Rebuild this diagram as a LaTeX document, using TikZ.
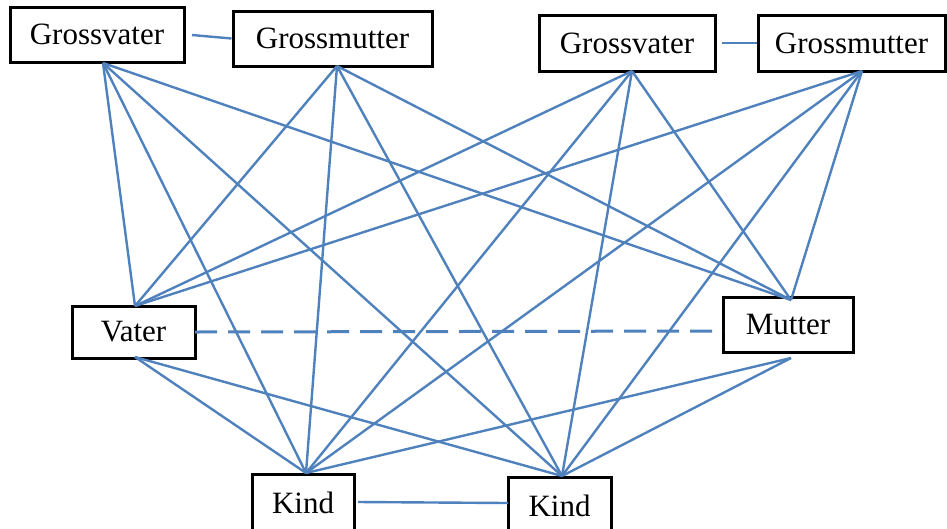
\documentclass[tikz,border=0pt]{standalone}
\usepackage{fontspec}
\setmainfont{Liberation Serif}
\begin{document}
\begin{tikzpicture}[x=1pt,y=-1pt,
  box/.style={draw=black,line width=3pt,fill=white,inner sep=0pt,font=\fontsize{31}{32}\selectfont},
  bl/.style={color=lineblue,line width=2.4pt},
  dashlink/.style={color=lineblue,line width=3pt,dash pattern=on 22pt off 11pt}]
\definecolor{lineblue}{HTML}{4F81BD}
\useasboundingbox (0,0) rectangle (947,528);
\clip (0,0) rectangle (947,528);
% boxes
\node[box,minimum width=174pt,minimum height=55pt] (gv1) at (97,34.5) {Grossvater};
\node[box,minimum width=199pt,minimum height=55pt] (gm1) at (332.5,38.5) {Grossmutter};
\node[box,minimum width=176pt,minimum height=56pt] (gv2) at (627,43) {Grossvater};
\node[box,minimum width=187pt,minimum height=56pt] (gm2) at (851.5,43) {Grossmutter};
\node[box,minimum width=123pt,minimum height=52pt] (vat) at (133.5,332) {Vater};
\node[box,minimum width=130pt,minimum height=55pt] (mut) at (788,324.5) {Mutter};
\node[box,minimum width=102pt,minimum height=57pt,anchor=north] (kl) at (303,473) {Kind};
\node[box,minimum width=103pt,minimum height=57pt,anchor=north] (kr) at (559.5,476) {Kind};
% connection points
\coordinate (gv1b) at (103,63);
\coordinate (gm1b) at (337,66);
\coordinate (gv2b) at (632,71);
\coordinate (gm2b) at (862,71);
\coordinate (vatt) at (135,306);
\coordinate (vatb) at (135,357);
\coordinate (mutt) at (791,300);
\coordinate (mutb) at (791,358);
\coordinate (mutl) at (723,331);
\coordinate (klt) at (306,473);
\coordinate (krt) at (562,476);
\coordinate (gv1r) at (192,35);
\coordinate (gv2r) at (722,43);
\coordinate (vatr) at (195,332);
\coordinate (klr) at (358,502);
\coordinate (krl) at (508,503);
% lines
\foreach \g in {gv1b,gm1b,gv2b,gm2b}{
  \foreach \t in {vatt,mutt,klt,krt}{
    \draw[bl] (\g) -- (\t);
  }
}
\foreach \p in {vatb,mutb}{
  \foreach \t in {klt,krt}{
    \draw[bl] (\p) -- (\t);
  }
}
\draw[bl] (gv1r) -- (gm1.west);
\draw[bl] (gv2r) -- (gm2.west);
\draw[bl] (klr) -- (krl);
\draw[dashlink] (vatr) -- (mutl);
\end{tikzpicture}
\end{document}
